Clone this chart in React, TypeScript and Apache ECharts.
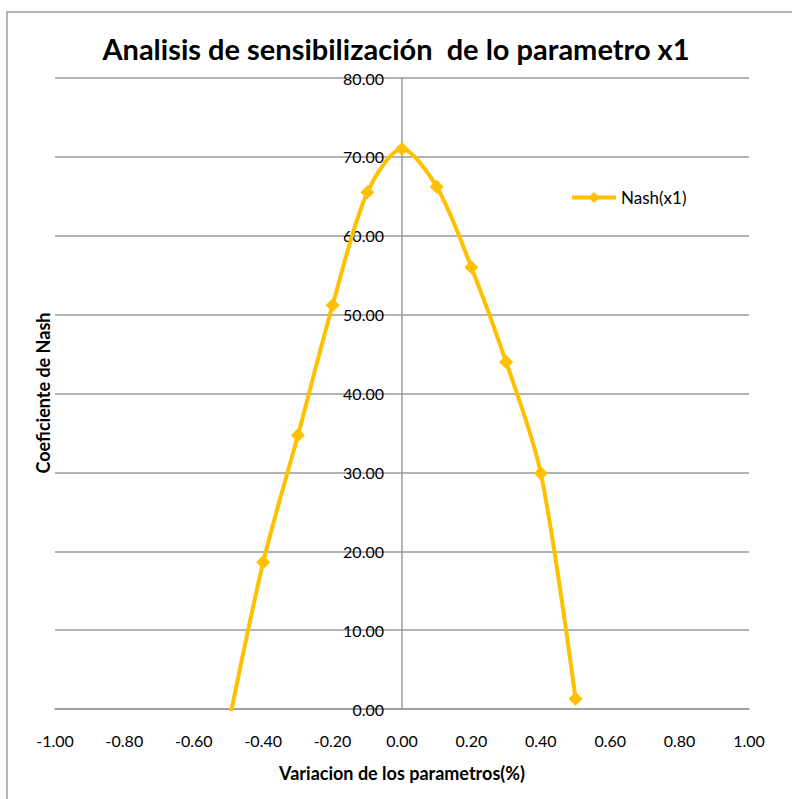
import React, { useEffect, useRef } from "react";
import * as echarts from "echarts";

const xValues = [-0.5, -0.4, -0.3, -0.2, -0.1, 0.0, 0.1, 0.2, 0.3, 0.4, 0.5];
const nashX1 = [-2.0, 18.6, 34.7, 51.2, 65.5, 71.0, 66.2, 56.0, 44.0, 29.9, 1.3];
const seriesName = "Nash(x1)";
const titleText = "Analisis de sensibilización  de lo parametro x1";
const xAxisName = "Variacion de los parametros(%)";
const yAxisName = "Coeficiente de Nash";

const FONT = "Lato, 'Open Sans', sans-serif";
const GOLD = "#FFC000";
const GRID = "#9a9a9a";

export default function App() {
  const ref = useRef<HTMLDivElement>(null);
  useEffect(() => {
    if (!ref.current) return;
    const chart = echarts.init(ref.current, null, { renderer: "svg" });
    const data = xValues.map((x, i) => [x, nashX1[i]]);
    const gridLeft = 55;
    const gridRight = 43;
    const plotWidth = 792 - gridLeft - gridRight;
    chart.setOption({
      animation: false,
      backgroundColor: "#ffffff",
      title: {
        text: titleText,
        left: "center",
        top: 29,
        textStyle: { fontFamily: FONT, fontSize: 29, fontWeight: "bold", color: "#000" },
      },
      graphic: [
        {
          type: "rect",
          shape: { x: 7, y: 12, width: 900, height: 900 },
          style: { fill: "none", stroke: "#a0a0a0", lineWidth: 1.5 },
          silent: true,
        },
        {
          type: "text",
          x: 43,
          y: 393,
          rotation: Math.PI / 2,
          style: {
            text: yAxisName,
            fontFamily: FONT,
            fontSize: 18,
            fontWeight: "bold",
            fill: "#000",
            align: "center",
            verticalAlign: "middle",
          },
        },
      ],
      legend: {
        left: 565,
        top: 184,
        itemWidth: 44,
        itemHeight: 14,
        itemGap: 4,
        data: [seriesName],
        lineStyle: { width: 4 },
        textStyle: { fontFamily: FONT, fontSize: 17, color: "#000" },
      },
      grid: { left: gridLeft, right: gridRight, top: 78, bottom: 90, containLabel: false },
      xAxis: {
        type: "value",
        min: -1,
        max: 1,
        interval: 0.2,
        name: xAxisName,
        nameLocation: "middle",
        nameGap: 55,
        nameTextStyle: { fontFamily: FONT, fontSize: 18, fontWeight: "bold", color: "#000" },
        axisLine: { onZero: false, lineStyle: { color: GRID, width: 1.5 } },
        axisTick: { show: false },
        splitLine: { show: false },
        axisLabel: {
          margin: 23,
          fontFamily: FONT,
          fontSize: 16,
          color: "#000",
          formatter: (v: number) => v.toFixed(2),
        },
      },
      yAxis: {
        type: "value",
        min: 0,
        max: 80,
        interval: 10,
        offset: -plotWidth / 2,
        axisLine: { show: true, onZero: false, lineStyle: { color: GRID, width: 1.5 } },
        axisTick: { show: false },
        splitLine: { show: true, lineStyle: { color: GRID, width: 1.5 } },
        axisLabel: {
          margin: 18,
          fontFamily: FONT,
          fontSize: 16,
          color: "#000",
          formatter: (v: number) => v.toFixed(2),
        },
      },
      series: [
        {
          name: seriesName,
          type: "line",
          data,
          smooth: 0.3,
          clip: true,
          symbol: "diamond",
          symbolSize: 14,
          itemStyle: { color: GOLD },
          lineStyle: { color: GOLD, width: 4 },
        },
      ],
    });
    return () => chart.dispose();
  }, []);
  return (
    <div
      ref={ref}
      style={{ position: "absolute", left: 0, top: 0, width: 792, height: 799 }}
    />
  );
}
